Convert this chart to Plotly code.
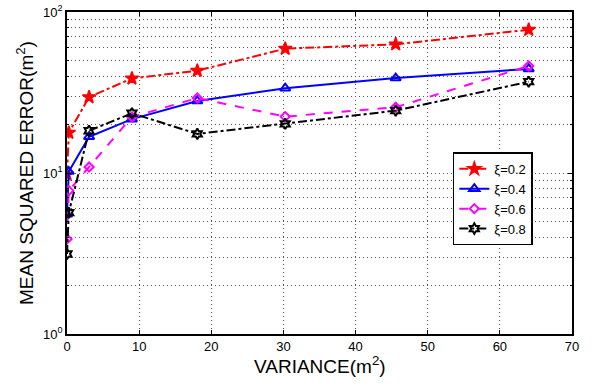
import plotly.graph_objects as go

variance = [0.0, 0.25, 3.06, 9.0, 18.06, 30.25, 45.56, 64.0]
mse_02 = [9.8, 17.8, 29.6, 38.7, 43.2, 59.2, 63.0, 77.6]
mse_04 = [5.54, 10.2, 16.8, 21.6, 28.0, 33.6, 38.9, 44.3]
mse_06 = [3.89, 7.77, 10.9, 22.3, 29.2, 22.4, 25.6, 46.2]
mse_08 = [3.14, 5.67, 18.3, 23.5, 17.5, 20.2, 24.4, 36.9]
names = ["ξ=0.2", "ξ=0.4", "ξ=0.6", "ξ=0.8"]

x_ticks = [0, 10, 20, 30, 40, 50, 60, 70]
y_ticks = [1, 10, 100]
y_ticktext = ["10<sup>0</sup>", "10<sup>1</sup>", "10<sup>2</sup>"]

fig = go.Figure()
styles = [
    (mse_02, "red", "dashdot", "star", 10, 1.5),
    (mse_04, "blue", "solid", "triangle-up-open", 9, 2),
    (mse_06, "magenta", "dash", "diamond-open", 7, 2),
    (mse_08, "black", "dashdot", "hexagram-open", 8, 2),
]
for (vals, col, dash, sym, size, mw), nm in zip(styles, names):
    fig.add_trace(go.Scatter(
        x=variance, y=vals, name=nm, mode="lines+markers",
        line=dict(color=col, dash=dash, width=2),
        marker=dict(symbol=sym, size=size, color=col, line=dict(color=col, width=mw)),
    ))

font = "Liberation Sans, Arial, sans-serif"
grid_dash = "1px,3px"
fig.update_layout(
    width=594, height=387,
    margin=dict(l=67, r=22, t=12, b=53, autoexpand=False),
    paper_bgcolor="white", plot_bgcolor="white",
    font=dict(family=font, size=13, color="black"),
    showlegend=True,
    legend=dict(
        x=0.764, y=0.564, xanchor="left", yanchor="top",
        bordercolor="black", borderwidth=1.5, bgcolor="white",
        font=dict(size=13), tracegroupgap=0, itemwidth=30,
    ),
    xaxis=dict(
        range=[0, 70], tickvals=x_ticks, showline=True, linecolor="black", linewidth=1.5,
        mirror="ticks", ticks="inside", ticklen=4, tickcolor="black",
        showgrid=True, gridcolor="#555555", griddash=grid_dash, gridwidth=1,
        zeroline=False, automargin=False,
        tickfont=dict(size=13),
    ),
    yaxis=dict(
        type="log", range=[0, 2], tickvals=y_ticks, ticktext=y_ticktext,
        showline=True, linecolor="black", linewidth=1.5,
        mirror="ticks", ticks="inside", ticklen=4, tickcolor="black",
        showgrid=True, gridcolor="#555555", griddash=grid_dash, gridwidth=1,
        zeroline=False, automargin=False,
        minor=dict(ticks="inside", ticklen=2, tickcolor="black", showgrid=True,
                   gridcolor="#555555", griddash=grid_dash, gridwidth=1, dtick="D1"),
        title=dict(text="MEAN SQUARED ERROR(m<sup>2</sup>)", font=dict(size=19), standoff=4),
        tickfont=dict(size=13),
    ),
    annotations=[dict(
        text="VARIANCE(m<sup>2</sup>)", x=0.5, y=0, xref="paper", yref="paper",
        xanchor="center", yanchor="top", yshift=-17, showarrow=False,
        font=dict(size=19, family=font, color="black"),
    )],
)

fig.write_html("out.html", config={"displayModeBar": False},
               post_script="document.body.style.margin='0';")
